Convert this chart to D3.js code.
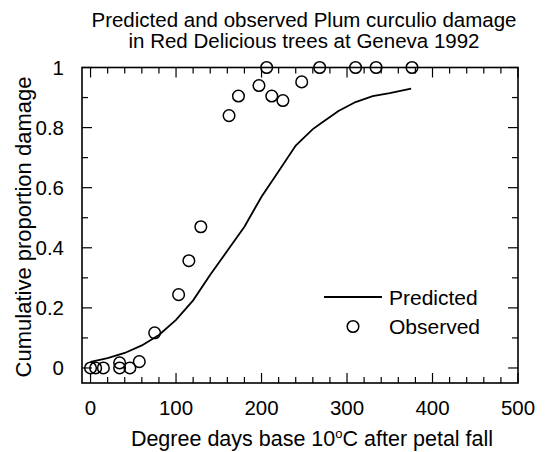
<!DOCTYPE html>
<html>
<head>
<meta charset="utf-8">
<script src="https://cdn.jsdelivr.net/npm/d3@7"></script>
<style>
  body { margin: 0; background: #fff; }
  text { font-family: "Liberation Sans", Arial, sans-serif; fill: #000; }
</style>
</head>
<body>
<script>
/*** data ***/
const titleLines = ["Predicted and observed Plum curculio damage", "in Red Delicious trees at Geneva 1992"];
const xTicks = [0, 100, 200, 300, 400, 500];
const yTicks = [0, 0.2, 0.4, 0.6, 0.8, 1];
const yTickLabels = ["0", "0.2", "0.4", "0.6", "0.8", "1"];

// predicted curve
const predX = [0, 20, 40, 60, 80, 100, 120, 140, 160, 180, 200, 220, 240, 260, 270, 290, 310, 330, 350, 375];
const predY = [0.02, 0.033, 0.05, 0.075, 0.11, 0.16, 0.225, 0.31, 0.39, 0.47, 0.57, 0.655, 0.74, 0.795, 0.815, 0.855, 0.885, 0.905, 0.915, 0.93];

// observed points
const obsX = [0, 6, 15, 34, 34, 46, 57, 75, 103, 115, 129, 162, 173, 197, 206, 212, 225, 247, 268, 310, 334, 376];
const obsY = [0, 0, 0, 0, 0.017, 0, 0.021, 0.117, 0.244, 0.357, 0.47, 0.84, 0.905, 0.94, 1, 0.905, 0.89, 0.952, 1, 1, 1, 1];

/*** layout ***/
const width = 545, height = 452;
const x = d3.scaleLinear().domain([-10, 500]).range([82, 518]);
const y = d3.scaleLinear().domain([-0.05, 1]).range([383, 67.5]);

const svg = d3.select("body").append("svg")
  .attr("width", width)
  .attr("height", height);

// title
svg.append("g").selectAll("text")
  .data(titleLines)
  .join("text")
  .attr("x", 304)
  .attr("y", (d, i) => 27 + i * 21)
  .attr("text-anchor", "middle")
  .style("font-size", "20.5px")
  .text(d => d);

// frame
const [x0, x1] = x.range(), [y0, y1] = y.range();
svg.append("rect")
  .attr("x", x0).attr("y", y1)
  .attr("width", x1 - x0).attr("height", y0 - y1)
  .attr("fill", "none").attr("stroke", "#000").attr("stroke-width", 1.6);

// inward ticks on all four sides
const xMinor = d3.range(0, 501, 20);
const yMinor = d3.range(0, 1.001, 0.1);
const isMajorX = v => v % 100 === 0;
const isMajorY = v => Math.abs(v * 5 - Math.round(v * 5)) < 1e-6;

const ticks = svg.append("g").attr("stroke", "#000").attr("stroke-width", 1.2);
xMinor.forEach(v => {
  const len = isMajorX(v) ? 10 : 6;
  ticks.append("line").attr("x1", x(v)).attr("x2", x(v)).attr("y1", y0).attr("y2", y0 - len);
  ticks.append("line").attr("x1", x(v)).attr("x2", x(v)).attr("y1", y1).attr("y2", y1 + len);
});
yMinor.forEach(v => {
  const len = isMajorY(v) ? 10 : 6;
  ticks.append("line").attr("y1", y(v)).attr("y2", y(v)).attr("x1", x0).attr("x2", x0 + len);
  ticks.append("line").attr("y1", y(v)).attr("y2", y(v)).attr("x1", x1).attr("x2", x1 - len);
});

// tick labels
svg.append("g").selectAll("text")
  .data(xTicks)
  .join("text")
  .attr("x", d => x(d))
  .attr("y", 415)
  .attr("text-anchor", "middle")
  .style("font-size", "20.5px")
  .text(d => d);

svg.append("g").selectAll("text")
  .data(yTicks)
  .join("text")
  .attr("x", 64)
  .attr("y", d => y(d))
  .attr("dy", "0.36em")
  .attr("text-anchor", "end")
  .style("font-size", "20.5px")
  .text((d, i) => yTickLabels[i]);

// axis titles
const xt = svg.append("text")
  .attr("x", 312)
  .attr("y", 446)
  .attr("text-anchor", "middle")
  .style("font-size", "21.5px");
xt.append("tspan").text("Degree days base 10");
xt.append("tspan").attr("dy", -8).style("font-size", "13px").text("o");
xt.append("tspan").attr("dy", 8).text("C after petal fall");

svg.append("text")
  .attr("transform", `translate(31,227) rotate(-90)`)
  .attr("text-anchor", "middle")
  .style("font-size", "22px")
  .text("Cumulative proportion damage");

// predicted line
const pred = predX.map((d, i) => [d, predY[i]]);
svg.append("path")
  .datum(pred)
  .attr("fill", "none")
  .attr("stroke", "#000")
  .attr("stroke-width", 1.8)
  .attr("d", d3.line().x(d => x(d[0])).y(d => y(d[1])));

// observed points
const obs = obsX.map((d, i) => [d, obsY[i]]);
svg.append("g").selectAll("circle")
  .data(obs)
  .join("circle")
  .attr("cx", d => x(d[0]))
  .attr("cy", d => y(d[1]))
  .attr("r", 5.8)
  .attr("fill", "none")
  .attr("stroke", "#000")
  .attr("stroke-width", 1.5);

// legend
const lg = svg.append("g");
lg.append("line")
  .attr("x1", 324).attr("x2", 382).attr("y1", 297).attr("y2", 297)
  .attr("stroke", "#000").attr("stroke-width", 1.8);
lg.append("text").attr("x", 389).attr("y", 297).attr("dy", "0.36em")
  .style("font-size", "21px").text("Predicted");
lg.append("circle").attr("cx", 353).attr("cy", 326.5).attr("r", 5.8)
  .attr("fill", "none").attr("stroke", "#000").attr("stroke-width", 1.5);
lg.append("text").attr("x", 389).attr("y", 326.5).attr("dy", "0.36em")
  .style("font-size", "21px").text("Observed");
</script>
</body>
</html>
